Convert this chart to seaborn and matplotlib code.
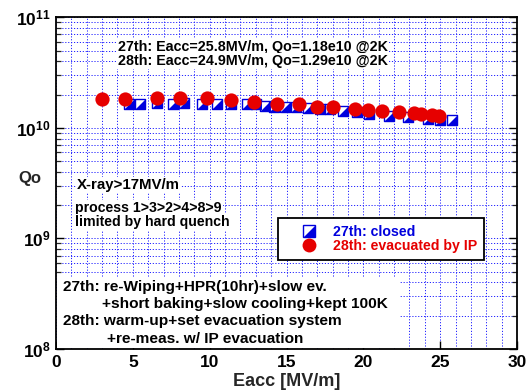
import math
import matplotlib
matplotlib.use("Agg")
import matplotlib.pyplot as plt
import seaborn as sns
import pandas as pd
from matplotlib.lines import Line2D
from matplotlib.patches import Rectangle
from matplotlib.legend_handler import HandlerTuple
from matplotlib.ticker import FuncFormatter, LogLocator, MultipleLocator

# ---- data ----
eacc_27 = [4.75, 5.45, 6.6, 7.6, 8.3, 9.5, 10.5, 11.4, 12.4, 13.0, 13.6, 14.2, 14.9,
           15.6, 16.4, 17.2, 17.8, 18.7, 19.6, 20.4, 21.7, 22.9, 24.2, 25.0, 25.8]
qo_27 = [1.64, 1.64, 1.67, 1.64, 1.67, 1.66, 1.64, 1.65, 1.64, 1.63, 1.58, 1.55, 1.55,
         1.53, 1.50, 1.49, 1.47, 1.43, 1.38, 1.34, 1.29, 1.25, 1.21, 1.19, 1.18]  # x1e10
eacc_28 = [3.0, 4.5, 6.6, 8.1, 9.8, 11.4, 12.9, 14.4, 15.8, 17.0, 18.0, 19.45, 20.3,
           21.2, 22.3, 23.3, 23.75, 24.5, 24.9]
qo_28 = [1.84, 1.81, 1.87, 1.88, 1.88, 1.78, 1.70, 1.66, 1.63, 1.56, 1.56, 1.47, 1.44,
         1.43, 1.40, 1.35, 1.33, 1.30, 1.29]  # x1e10
label_27 = "27th: closed"
label_28 = "28th: evacuated by IP"
xticks = [0, 5, 10, 15, 20, 25, 30]

df27 = pd.DataFrame({"Eacc": eacc_27, "Qo": [q * 1e10 for q in qo_27]})
df28 = pd.DataFrame({"Eacc": eacc_28, "Qo": [q * 1e10 for q in qo_28]})

sns.set_style("white")
plt.rcParams["font.family"] = ["Liberation Sans", "DejaVu Sans"]
plt.rcParams["font.weight"] = "bold"
plt.rcParams["mathtext.fontset"] = "custom"
plt.rcParams["mathtext.bf"] = "Liberation Sans:bold"
plt.rcParams["mathtext.rm"] = "Liberation Sans:bold"

W, H = 532, 392
fig = plt.figure(figsize=(W / 100, H / 100), dpi=100)
L, R, T, B = 56, 517, 17.3, 349
ax = fig.add_axes([L / W, 1 - B / H, (R - L) / W, (B - T) / H])

BLUE = "#0000dd"
RED = "#e60000"

sq_size = 62
tri = [(-1, -1), (1, -1), (1, 1), (-1, -1)]
sns.scatterplot(data=df27, x="Eacc", y="Qo", marker="s", s=sq_size, facecolor="white",
                edgecolor=BLUE, linewidth=1.0, ax=ax, zorder=3)
sns.scatterplot(data=df27, x="Eacc", y="Qo", marker=tri, s=sq_size, color=BLUE,
                linewidth=0, ax=ax, zorder=3.1)
sns.scatterplot(data=df28, x="Eacc", y="Qo", marker="o", s=105, color=RED,
                linewidth=0, ax=ax, zorder=4)

ax.set_yscale("log")
ax.set_xlim(0, 30)
ax.set_ylim(1e8, 1e11)
ax.set_xticks(xticks)
ax.xaxis.set_minor_locator(MultipleLocator(1))
ax.yaxis.set_major_locator(LogLocator(base=10))
ax.yaxis.set_minor_locator(LogLocator(base=10, subs=range(2, 10)))
ax.yaxis.set_major_formatter(FuncFormatter(lambda v, p: r"$\mathbf{10^{%d}}$" % round(math.log10(v))))
ax.yaxis.set_minor_formatter(FuncFormatter(lambda v, p: ""))

ax.set_axisbelow(True)
ax.grid(True, which="both", axis="both", color="#2222ff", linestyle=(0, (1.2, 1.8)), linewidth=0.7)

for s in ax.spines.values():
    s.set_color("black")
    s.set_linewidth(1.3)
ax.tick_params(axis="both", which="major", direction="in", length=6, width=1.0,
               labelsize=12.5, pad=4, left=True, right=True, bottom=True, top=False, colors="black")
ax.tick_params(axis="y", which="minor", direction="in", length=3.5, width=0.9, left=True, right=True)
ax.tick_params(axis="x", which="minor", length=0)
for lab in ax.get_xticklabels():
    lab.set_fontweight("bold")

ax.set_xlabel("Eacc [MV/m]", fontsize=13, fontweight="bold")
ax.xaxis.set_label_coords(0.5, (B - 381) / (B - T))
ax.xaxis.label.set_va("center")
ax.set_ylabel("Qo", fontsize=12, fontweight="bold", rotation=0)
ax.yaxis.set_label_coords((30 - L) / (R - L), (B - 179) / (B - T))
ax.yaxis.label.set_va("center")
ax.yaxis.label.set_ha("center")


def px(xp, yp):
    return (xp - L) / (R - L), (B - yp) / (B - T)


def put(xp, yp, s, size, bg=True):
    kw = {}
    if bg:
        kw["bbox"] = dict(facecolor="white", edgecolor="none", pad=1.0)
    ax.text(*px(xp, yp), s, transform=ax.transAxes, ha="left", va="center",
            fontsize=size, fontweight="bold", color="black", zorder=2, **kw)


put(118, 47, "27th: Eacc=25.8MV/m, Qo=1.18e10 @2K", 10.3)
put(118, 61, "28th: Eacc=24.9MV/m, Qo=1.29e10 @2K", 10.3)
put(77, 185, "X-ray>17MV/m", 10.8)
put(75, 208, "process 1>3>2>4>8>9", 10.2)
put(75, 222, "limited by hard quench", 10.2)

# white block behind the bottom notes
x0, y0 = px(57, 278)
x1, y1 = px(400, 348)
ax.add_patch(Rectangle((x0, y1), x1 - x0, y0 - y1, transform=ax.transAxes,
                       facecolor="white", edgecolor="none", zorder=1))
put(63, 287, "27th: re-Wiping+HPR(10hr)+slow ev.", 11.1, bg=False)
put(102, 304, "+short baking+slow cooling+kept 100K", 11.1, bg=False)
put(63, 321, "28th: warm-up+set evacuation system", 11.1, bg=False)
put(107, 339, "+re-meas. w/ IP evacuation", 11.1, bg=False)

h_sq = Line2D([], [], marker="s", linestyle="none", markersize=8, markerfacecolor="white",
              markeredgecolor=BLUE, markeredgewidth=1.0)
h_tri = Line2D([], [], marker=tri, linestyle="none", markersize=8, markerfacecolor=BLUE,
               markeredgewidth=0)
h_c = Line2D([], [], marker="o", linestyle="none", markersize=10, markerfacecolor=RED,
             markeredgewidth=0)
fs_leg = 10.2
leg = ax.legend([(h_sq, h_tri), h_c], [label_27, label_28],
                handler_map={tuple: HandlerTuple(ndivide=1)},
                loc="upper left", bbox_to_anchor=px(278.3, 218.3), bbox_transform=ax.transAxes,
                borderaxespad=0, frameon=True, fancybox=False,
                handlelength=3.3, handletextpad=0.05, borderpad=0.5, labelspacing=0.0,
                prop={"weight": "bold", "size": fs_leg})
leg.get_frame().set_edgecolor("black")
leg.get_frame().set_linewidth(1.3)
leg.get_frame().set_alpha(1)
leg.set_zorder(5)
leg.get_texts()[0].set_color(BLUE)
leg.get_texts()[1].set_color(RED)

fig.savefig("out.png", dpi=100)
